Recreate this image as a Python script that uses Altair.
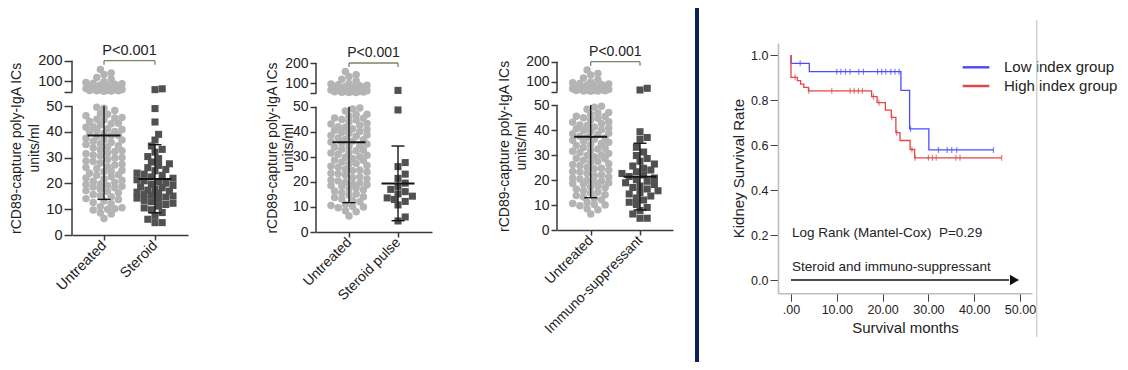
import math
import altair as alt
import pandas as pd

FONT = "Liberation Sans"
W, H, M = 1112, 354, 8

# ---------------- data: dot plots ----------------
untreated = [158, 141, 133, 119, 110,
             98, 95, 91, 89, 86, 83, 80, 77, 74, 71, 69, 67, 65, 63, 61, 60, 58, 57, 56, 55, 54, 53, 52,
             49.5, 49.1, 48.3, 47.0, 46.8, 46.2, 45.5, 45.4, 44.9, 44.7, 44.0, 43.3, 43.1, 42.6, 42.0,
             41.8, 41.2, 40.9, 40.5, 40.1, 39.8, 39.4, 38.7, 38.5, 38.2, 37.5, 37.0, 36.8, 36.3, 35.9,
             35.5, 35.1, 34.6, 34.2, 33.8, 33.0, 32.7, 32.4, 31.8, 31.5, 31.0, 30.6, 30.0, 29.8, 29.3,
             28.7, 28.5, 27.9, 27.4, 27.1, 26.5, 26.2, 25.8, 25.0, 24.7, 24.5, 23.9, 23.4, 23.2, 22.6,
             22.1, 21.7, 21.2, 20.8, 20.4, 19.8, 19.6, 19.2, 18.9, 18.6, 18.3, 17.7, 17.2, 16.9, 16.4,
             15.7, 15.2, 14.8, 14.1, 13.8, 13.2, 12.6, 12.1, 11.0, 10.6, 10.2, 10.0, 9.7, 8.5, 8.1, 6.4]
steroid = [64, 60, 49, 43.8, 39, 36.8, 34.5, 33.2, 32.1, 30.4, 29.6, 28.3, 27.6, 27.0, 26.1, 25.4,
           24.9, 24.0, 23.6, 23.1, 22.5, 22.0, 21.4, 21.0, 20.6, 20.1, 19.6, 19.2, 18.7, 18.3, 17.8,
           17.4, 17.0, 16.6, 16.2, 15.9, 15.5, 15.1, 14.7, 14.3, 13.8, 13.4, 12.9, 12.3, 11.8, 11.2,
           10.5, 9.8, 8.7, 7.6, 6.1, 4.8, 4.8]
steroid_pulse = [63, 48.7, 27.7, 26.1, 23.1, 21.4, 19.5, 18.2, 17.0, 16.1, 15.2, 14.3, 13.6, 13.0,
                 12.2, 10.8, 6.0, 4.4]
immuno = [67, 58.5, 39.3, 37.0, 36.3, 33.1, 31.2, 29.8, 28.6, 27.5, 26.4, 25.6, 24.7, 24.0, 23.3,
          22.6, 22.0, 21.4, 20.8, 20.1, 19.5, 18.9, 18.2, 17.6, 17.0, 16.4, 15.7, 15.0, 14.4, 13.6,
          12.8, 12.0, 11.1, 10.2, 9.0, 7.8, 6.4, 4.7, 4.7]
treated_sets = [steroid, steroid_pulse, immuno]

panel_groups = [["Untreated", "Steroid"], ["Untreated", "Steroid pulse"], ["Untreated", "Immuno-suppressant"]]
group_means = [[38.6, 21.7], [35.8, 19.4], [37.3, 21.3]]
group_sd_low = [[13.8, 8.6], [11.7, 4.5], [12.9, 8.0]]
group_sd_high = [[50.0, 35.0], [50.0, 34.3], [50.0, 34.7]]
p_labels = ["P<0.001", "P<0.001", "P<0.001"]
y_ticks_lower = [0, 10, 20, 30, 40, 50]
y_ticks_upper = [100, 200]
y_title = ["rCD89-capture poly-IgA ICs", "units/ml"]

# ---------------- data: Kaplan-Meier ----------------
km_groups = ["Low index group", "High index group"]
km_colors = ["#4d4dff", "#e24646"]
low_times = [0, 0, 4.0, 24.0, 25.9, 30.1, 44.2]
low_surv = [1.0, 0.963, 0.926, 0.843, 0.672, 0.578, 0.578]
high_times = [0, 0, 1.4, 2.1, 2.8, 3.8, 17.6, 18.8, 20.6, 21.9, 22.9, 23.8, 26.0, 27.0, 46.0]
high_surv = [1.0, 0.901, 0.886, 0.871, 0.856, 0.841, 0.815, 0.788, 0.755, 0.723, 0.655, 0.620,
             0.580, 0.543, 0.543]
low_censor = [2.0, 10.0, 10.9, 11.9, 12.9, 14.8, 15.8, 18.9, 19.8, 20.7, 21.8, 22.7, 23.6, 26.1,
              32.2, 34.1, 35.1, 36.2, 44.2]
high_censor = [0.9, 3.9, 8.9, 12.9, 13.8, 14.7, 15.6, 18.0, 19.2, 22.0, 23.1, 26.4, 27.1, 30.0,
               30.9, 31.7, 36.0, 36.9, 46.0]
km_x_ticks = [0, 10, 20, 30, 40, 50]
km_y_ticks = [0.0, 0.2, 0.4, 0.6, 0.8, 1.0]
ann_text = ["Log Rank (Mantel-Cox)\u00a0 P=0.29", "Steroid and immuno-suppressant"]
ann_t = [0.2, 0.2]
ann_s = [0.209, 0.058]
arrow_from, arrow_to, arrow_head = 0.0, 47.6, 48.8

# ---------------- layout (page pixels) ----------------
geoms = [
    dict(xaxis=72, xright=188, cat=(104, 155), y0=235, y50=106, ybreak=91.7, y200=60.7,
         tick=8, tpad=-3.5, lh=17.5, fs=14.5, tfs=14),
    dict(xaxis=316, xright=432, cat=(349, 398), y0=232, y50=106.7, ybreak=93, y200=63,
         tick=6, tpad=-11, lh=16, fs=14, tfs=14),
    dict(xaxis=557, xright=673, cat=(590.7, 640), y0=230, y50=105, ybreak=91.7, y200=61.7,
         tick=6, tpad=-2.5, lh=16.4, fs=14, tfs=14),
]


def broken(v, g):
    ppu = (g["y0"] - g["y50"]) / 50.0
    if v <= 50:
        return v
    return 50 + (g["y50"] - g["ybreak"]) / ppu + (v - 50) * (g["ybreak"] - g["y200"]) / 150.0 / ppu


def swarm(values, g, step=3.6, min_dist=6.0, max_k=5):
    ppu = (g["y0"] - g["y50"]) / 50.0
    ys = [broken(v, g) * ppu for v in values]
    order = sorted(range(len(values)), key=lambda i: ys[i])
    cands = [0.0]
    for k in range(1, max_k + 1):
        cands += [k * step, -k * step]
    placed = []
    offs = [0.0] * len(values)
    for i in order:
        y = ys[i]
        best_x, best_d = 0.0, -1.0
        for x in cands:
            near = [math.hypot(x - px, y - py) for px, py in placed if abs(y - py) < min_dist]
            d = min(near) if near else 99.0
            if d >= min_dist:
                best_x, best_d = x, d
                break
            if d > best_d:
                best_x, best_d = x, d
        placed.append((best_x, y))
        offs[i] = best_x
    return offs


def dot_panel(p):
    g = geoms[p]
    labels = panel_groups[p]
    treated = treated_sets[p]
    ppu = (g["y0"] - g["y50"]) / 50.0
    step = g["cat"][1] - g["cat"][0]
    xmin = (g["xaxis"] - g["cat"][0]) / step
    xmax = (g["xright"] - g["cat"][0]) / step
    t_break = 50 + (g["y50"] - g["ybreak"]) / ppu
    t100 = broken(100, g)
    t200 = broken(200, g)

    def xs():
        return alt.Scale(domain=[xmin, xmax], range=[g["xaxis"] - M, g["xright"] - M], nice=False, zero=False)

    def ys():
        return alt.Scale(domain=[0, t200], range=[g["y0"] - M, g["y200"] - M], nice=False, zero=False)

    ou = swarm(untreated, g)
    ot = swarm(treated, g, min_dist=6.5)
    du = pd.DataFrame({"x": [0 + o / step for o in ou], "y": [broken(v, g) for v in untreated]})
    dt = pd.DataFrame({"x": [1 + o / step for o in ot], "y": [broken(v, g) for v in treated]})

    ylabel = (f"datum.value > {t100 + 0.5:.4f} ? '{y_ticks_upper[1]}' : "
              f"datum.value > {t_break + 0.5:.4f} ? '{y_ticks_upper[0]}' : "
              f"datum.value > 50.5 ? '' : format(datum.value, 'd')")
    xlabel = f"datum.value < 0.5 ? '{labels[0]}' : '{labels[1]}'"

    x_axis = alt.Axis(orient="bottom", offset=-(H - (g["y0"] - M)), values=[0, 1], labelExpr=xlabel,
                      labelAngle=315, labelAlign="right", labelBaseline="middle", labelFont=FONT,
                      labelFontSize=g["fs"], labelColor="#222", labelPadding=3, labelFlush=False,
                      labelOverlap=False, tickSize=5, tickWidth=1.5, tickColor="#3a3a3a",
                      domainColor="#3a3a3a", domainWidth=1.5, grid=False, title=None)
    y_axis = alt.Axis(orient="left", offset=-(g["xaxis"] - M),
                      values=y_ticks_lower + [t_break, t100, t200], labelExpr=ylabel,
                      labelFont=FONT, labelFontSize=g["fs"], labelColor="#222", labelPadding=2,
                      labelFlush=False, labelOverlap=False, tickSize=g["tick"], tickWidth=1.5,
                      tickColor="#3a3a3a", domain=False, grid=False, minExtent=0,
                      title=y_title, titleFont=FONT, titleFontSize=g["tfs"], titleFontWeight="normal",
                      titleColor="#222", titlePadding=g["tpad"], titleLineHeight=g["lh"])

    circles = alt.Chart(du).mark_circle(size=56, opacity=1, color="#b4b4b4").encode(
        x=alt.X("x:Q", scale=xs(), axis=x_axis), y=alt.Y("y:Q", scale=ys(), axis=y_axis))
    squares = alt.Chart(dt).mark_square(size=50, opacity=1, color="#515151").encode(
        x=alt.X("x:Q", scale=xs(), axis=None), y=alt.Y("y:Q", scale=ys(), axis=None))

    half_m = 16.5 / step
    half_c = 6.5 / step
    stats = pd.DataFrame({
        "i": [0, 1],
        "mean": group_means[p],
        "lo": group_sd_low[p],
        "hi": group_sd_high[p],
    })
    stats["ml"] = stats["i"] - half_m
    stats["mr"] = stats["i"] + half_m
    caps = pd.concat([
        pd.DataFrame({"i": stats["i"], "v": stats["lo"]}),
        pd.DataFrame({"i": stats["i"], "v": stats["hi"]}),
    ])
    caps = caps[caps["v"] < 50].copy()
    caps["cl"] = caps["i"] - half_c
    caps["cr"] = caps["i"] + half_c

    mean_l = alt.Chart(stats).mark_rule(color="#151515", strokeWidth=2).encode(
        x=alt.X("ml:Q", scale=xs(), axis=None), x2="mr:Q", y=alt.Y("mean:Q", scale=ys(), axis=None))
    sd_l = alt.Chart(stats).mark_rule(color="#151515", strokeWidth=1.4).encode(
        x=alt.X("i:Q", scale=xs(), axis=None), y=alt.Y("lo:Q", scale=ys(), axis=None), y2="hi:Q")
    cap_l = alt.Chart(caps).mark_rule(color="#151515", strokeWidth=1.4).encode(
        x=alt.X("cl:Q", scale=xs(), axis=None), x2="cr:Q", y=alt.Y("v:Q", scale=ys(), axis=None))

    seg = pd.DataFrame({"x": [xmin, xmin], "y": [0, t_break], "y2": [50, t200]})
    axis_l = alt.Chart(seg).mark_rule(color="#3a3a3a", strokeWidth=1.5).encode(
        x=alt.X("x:Q", scale=xs(), axis=None), y=alt.Y("y:Q", scale=ys(), axis=None), y2="y2:Q")

    br = pd.DataFrame({"x": [0], "x2": [1], "y": [t200], "xm": [0.5], "label": [p_labels[p]]})
    br_h = alt.Chart(br).mark_rule(color="#7b8466", strokeWidth=1.3).encode(
        x=alt.X("x:Q", scale=xs(), axis=None), x2="x2:Q", y=alt.Y("y:Q", scale=ys(), axis=None))
    br_e = pd.DataFrame({"x": [0, 1], "y": [t200, t200], "yt": [t200 - 4 / ppu] * 2})
    br_v = alt.Chart(br_e).mark_rule(color="#7b8466", strokeWidth=1.3).encode(
        x=alt.X("x:Q", scale=xs(), axis=None), y=alt.Y("y:Q", scale=ys(), axis=None), y2="yt:Q")
    br_t = alt.Chart(br).mark_text(font=FONT, fontSize=g["fs"], color="#222", baseline="alphabetic",
                                   dy=-6).encode(
        x=alt.X("xm:Q", scale=xs(), axis=None), y=alt.Y("y:Q", scale=ys(), axis=None), text="label:N")

    return [circles, squares, axis_l, sd_l, cap_l, mean_l, br_h, br_v, br_t]


def step_lookup(times, surv, t):
    val = surv[0]
    for tt, ss in zip(times, surv):
        if tt <= t:
            val = ss
    return val


def km_panel():
    x0_px, x50_px = 791, 1020
    y0_px, y1_px = 280, 55
    xl, xr = 778, 1032
    yb, yt = 293.3, 43
    kx = (x50_px - x0_px) / 50.0
    ky = (y0_px - y1_px) / 1.0
    xdom = [(xl - x0_px) / kx, (xr - x0_px) / kx]
    ydom = [(y0_px - yb) / ky, (y0_px - yt) / ky]

    def xs():
        return alt.Scale(domain=xdom, range=[xl - M, xr - M], nice=False, zero=False)

    def ys():
        return alt.Scale(domain=ydom, range=[yb - M, yt - M], nice=False, zero=False)

    def cs():
        return alt.Scale(domain=km_groups, range=km_colors)

    rows = []
    for gname, tl, sl in [(km_groups[0], low_times, low_surv), (km_groups[1], high_times, high_surv)]:
        for k, (t, s) in enumerate(zip(tl, sl)):
            rows.append({"t": t, "s": s, "group": gname, "k": k})
    dl = pd.DataFrame(rows)
    crow = []
    for gname, cl, tl, sl in [(km_groups[0], low_censor, low_times, low_surv),
                              (km_groups[1], high_censor, high_times, high_surv)]:
        for t in cl:
            crow.append({"t": t, "s": step_lookup(tl, sl, t), "group": gname})
    dc = pd.DataFrame(crow)

    x_axis = alt.Axis(orient="bottom", offset=-(H - (yb - M)), values=km_x_ticks,
                      labelExpr="datum.value == 0 ? '.00' : format(datum.value, '.2f')",
                      labelFont=FONT, labelFontSize=12.5, labelColor="#222", labelPadding=2,
                      labelFlush=False, tickSize=8, tickColor="#444", tickWidth=1,
                      domainColor="#bdbdbd", domainWidth=1.6, grid=False,
                      title="Survival months", titleFont=FONT, titleFontSize=15,
                      titleFontWeight="normal", titleColor="#222", titlePadding=5)
    y_axis = alt.Axis(orient="left", offset=-(xl - M), values=km_y_ticks, format=".1f",
                      labelFont=FONT, labelFontSize=12.5, labelColor="#222", labelPadding=2,
                      labelFlush=False, tickSize=8, tickColor="#444", tickWidth=1,
                      domainColor="#bdbdbd", domainWidth=1.6, grid=False, minExtent=0,
                      title="Kidney Survival Rate", titleFont=FONT, titleFontSize=15,
                      titleFontWeight="normal", titleColor="#222", titlePadding=4)

    lines = alt.Chart(dl).mark_line(interpolate="step-after", strokeWidth=1.3).encode(
        x=alt.X("t:Q", scale=xs(), axis=x_axis), y=alt.Y("s:Q", scale=ys(), axis=y_axis),
        color=alt.Color("group:N", scale=cs(), legend=None), detail="group:N", order="k:Q")
    cens = alt.Chart(dc).mark_tick(orient="vertical", size=6, thickness=1.2).encode(
        x=alt.X("t:Q", scale=xs(), axis=None), y=alt.Y("s:Q", scale=ys(), axis=None),
        color=alt.Color("group:N", scale=cs(), legend=None))

    arr = pd.DataFrame({"a": [arrow_from], "b": [arrow_to], "h": [arrow_head], "y": [0.0]})
    arrow = alt.Chart(arr).mark_rule(color="#111", strokeWidth=1.6).encode(
        x=alt.X("a:Q", scale=xs(), axis=None), x2="b:Q", y=alt.Y("y:Q", scale=ys(), axis=None))
    head = alt.Chart(arr).mark_point(shape="triangle-right", filled=True, size=110, color="#111",
                                     opacity=1).encode(
        x=alt.X("h:Q", scale=xs(), axis=None), y=alt.Y("y:Q", scale=ys(), axis=None))
    ann = pd.DataFrame({"t": ann_t, "s": ann_s, "text": ann_text})
    notes = alt.Chart(ann).mark_text(font=FONT, fontSize=13.5, color="#222", align="left",
                                     baseline="middle").encode(
        x=alt.X("t:Q", scale=xs(), axis=None), y=alt.Y("s:Q", scale=ys(), axis=None), text="text:N")

    leg_layers = []
    leg_y = [67.3, 86.0]
    for k in range(2):
        leg_layers.append(alt.Chart(arr).mark_rule(color=km_colors[k], strokeWidth=2.5).encode(
            x=alt.value(962.7 - M), x2=alt.value(989.3 - M), y=alt.value(leg_y[k] - M)))
        leg_layers.append(alt.Chart(arr).mark_text(
            font=FONT, fontSize=15, color="#222", align="left", baseline="middle",
            text=km_groups[k]).encode(x=alt.value(1004 - M), y=alt.value(leg_y[k] - M)))

    frame = alt.Chart(arr).mark_rule(color="#d2d2d2", strokeWidth=1.5).encode(
        x=alt.value(1036.7 - M), y=alt.value(20 - M), y2=alt.value(337 - M))
    divider = alt.Chart(arr).mark_rule(color="#0b1f5c", strokeWidth=4).encode(
        x=alt.value(697 - M), y=alt.value(0), y2=alt.value(H))

    return [lines, cens, arrow, head, notes] + leg_layers + [frame, divider]


all_layers = dot_panel(0) + dot_panel(1) + dot_panel(2) + km_panel()
chart = alt.layer(*all_layers).resolve_scale(
    x="independent", y="independent", color="independent"
).resolve_axis(x="independent", y="independent").properties(
    width=W, height=H, padding=0, autosize=alt.AutoSizeParams(type="none"), background="white"
).configure_view(stroke=None)

chart.save("out.html", embed_options={"renderer": "svg", "actions": False})
